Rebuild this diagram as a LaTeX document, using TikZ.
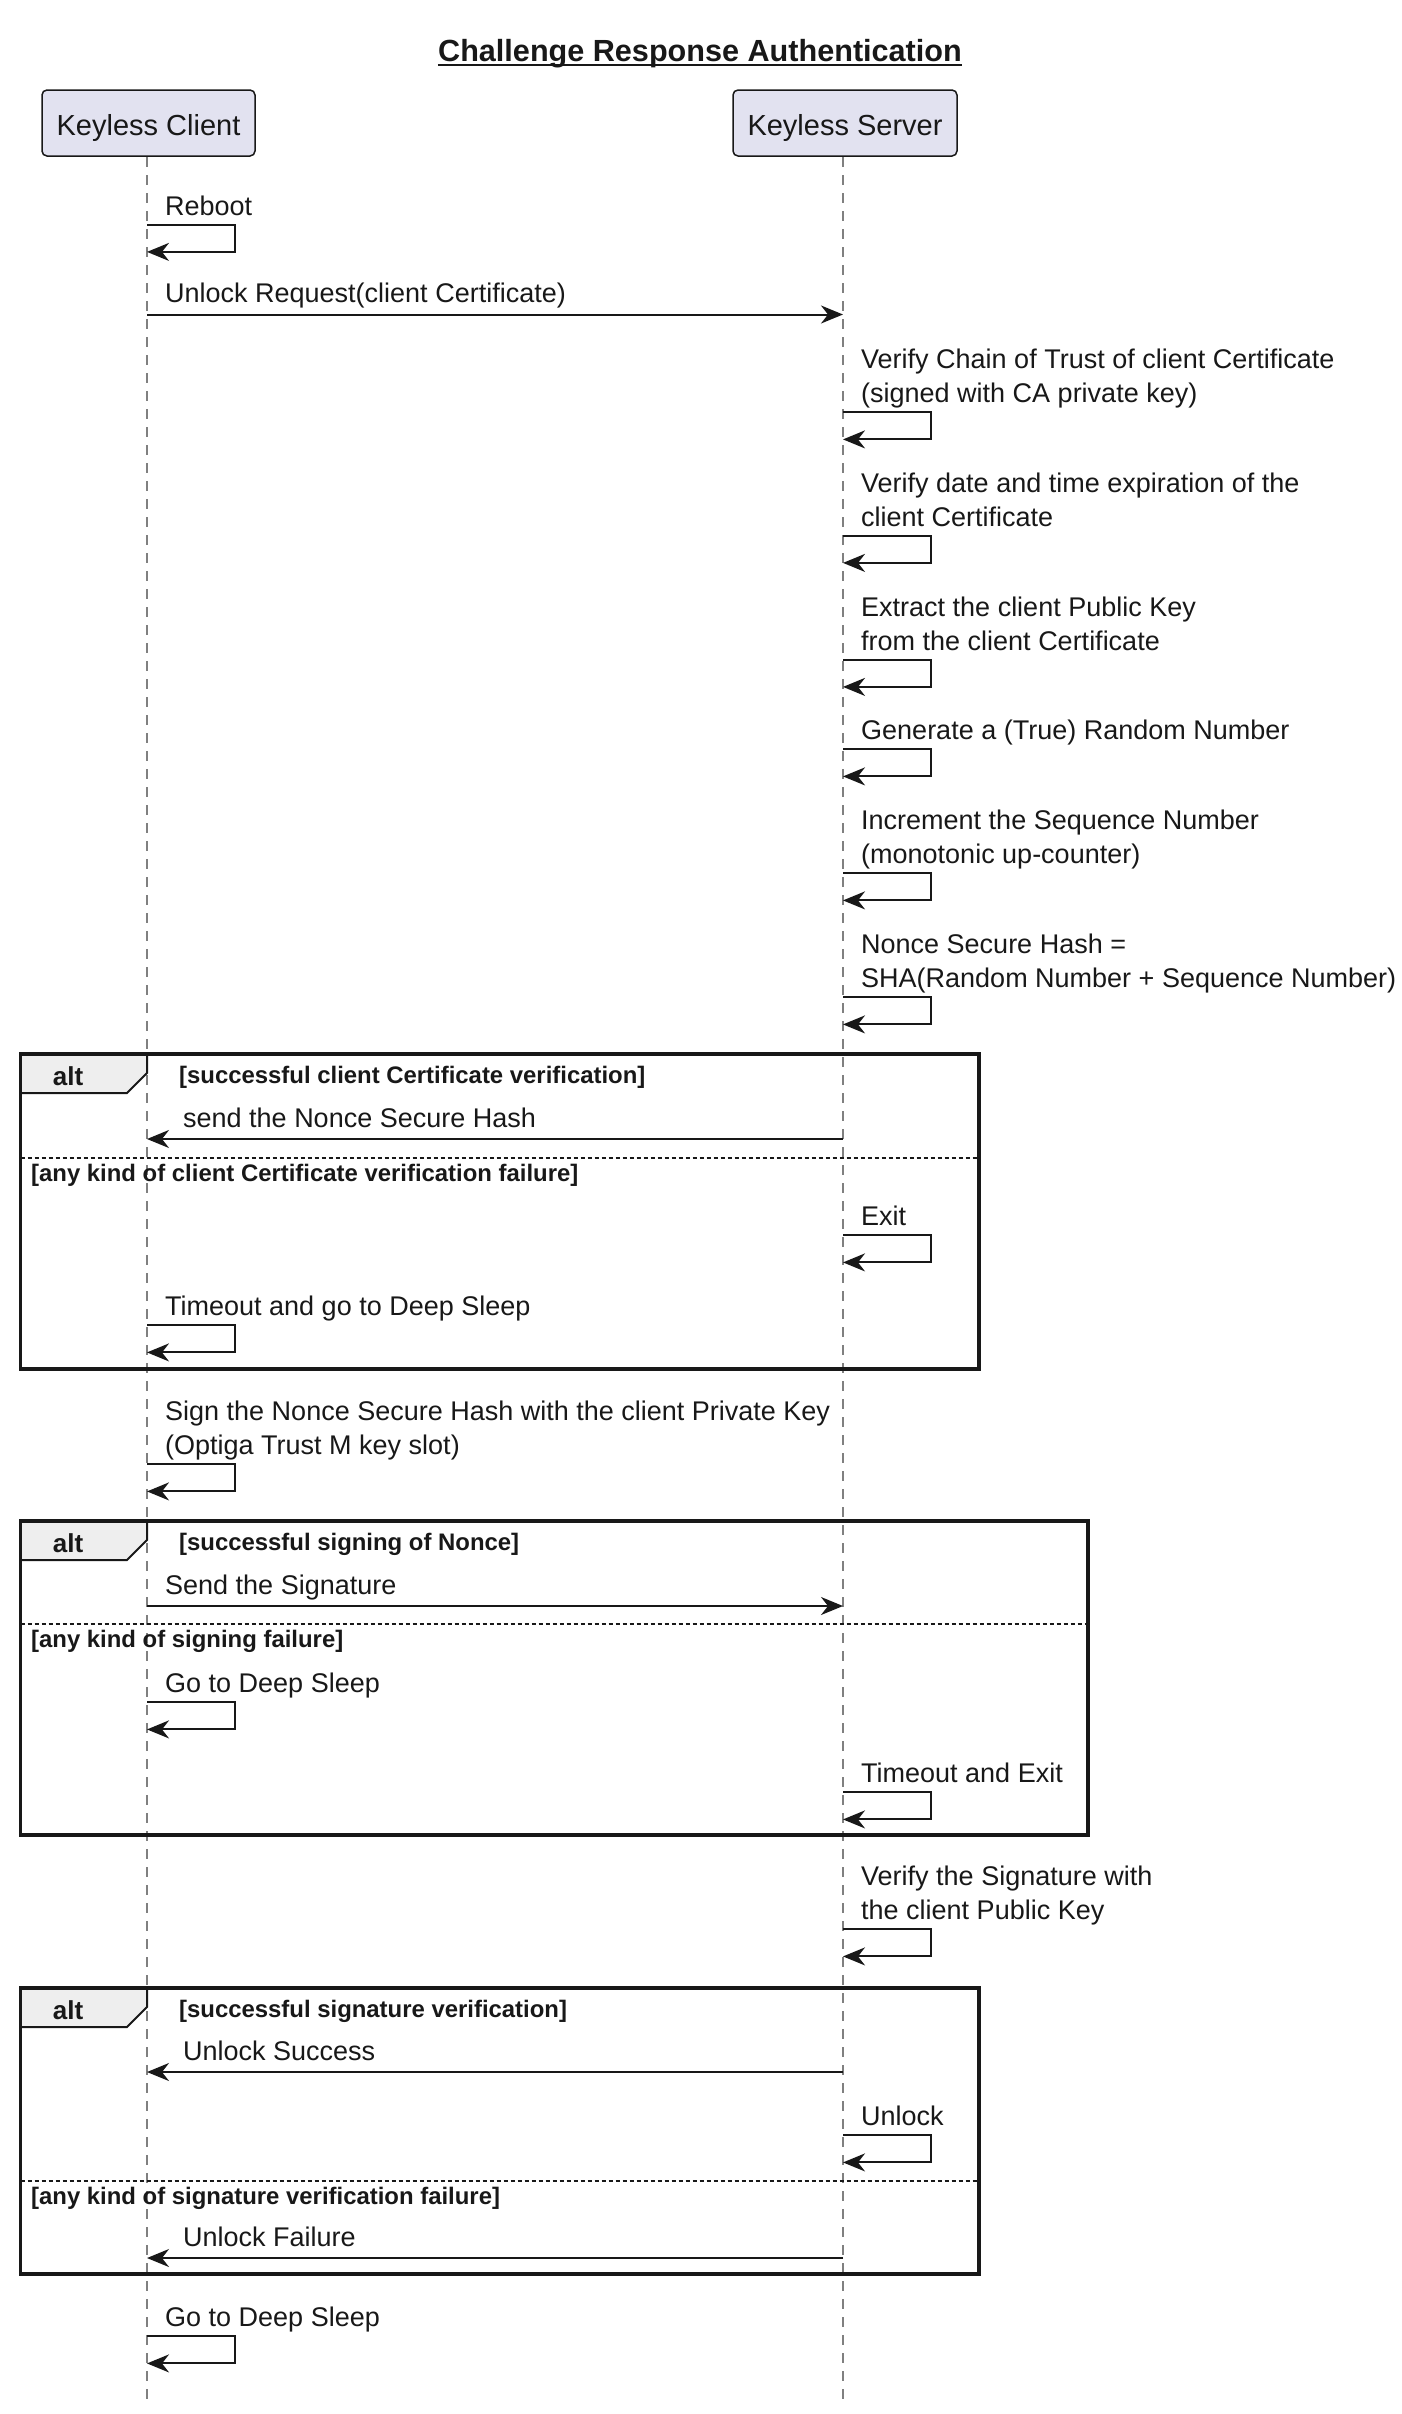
\documentclass[tikz,border=0pt]{standalone}
\usepackage{fontspec}
\setmainfont{Liberation Sans}
\usetikzlibrary{arrows.meta}
\definecolor{ink}{HTML}{181818}
\definecolor{partfill}{HTML}{E2E2F0}
\definecolor{tabfill}{HTML}{EEEEEE}
\definecolor{lifegray}{HTML}{808080}

% self message: name, lifeline x, y of the outgoing stroke
\newcommand\selfcall[3]{%
  \coordinate (#1a) at (#2,-#3);
  \coordinate (#1b) at (#2,-#3-27.4);
  \draw[msg] (#1a) -- ++(88,0) |- (#1b);}

\begin{document}
\begin{tikzpicture}[x=1pt,y=1pt,
  msg/.style={draw=ink, line width=2pt, line join=miter,
    -{Stealth[length=22pt,width=18pt,inset=7pt]}},
  msgtxt/.style={font=\fontsize{27}{34}\selectfont, inner sep=0pt,
    anchor=base west, align=left, text=ink},
  guard/.style={font=\bfseries\fontsize{23.9}{28}\selectfont, inner sep=0pt,
    anchor=base west, text=ink},
  part/.style={draw=ink, line width=1.5pt, fill=partfill, rounded corners=5pt,
    minimum height=66pt, text height=24pt, text depth=0pt,
    font=\fontsize{29}{34}\selectfont, text=ink},
  lifeline/.style={draw=lifegray, line width=1.5pt, dash pattern=on 10pt off 8pt},
  frame/.style={draw=ink, line width=3.5pt},
  tab/.style={draw=ink, line width=2pt, fill=tabfill},
  separator/.style={draw=ink, line width=1.8pt, dash pattern=on 4pt off 3pt},
  altlbl/.style={font=\bfseries\fontsize{26}{30}\selectfont, inner sep=0pt,
    anchor=base, text=ink}]
\useasboundingbox (0,0) rectangle (1402,-2414);

% title
\node[font=\bfseries\fontsize{30.6}{36}\selectfont, inner sep=0pt, anchor=base, text=ink]
  (title) at (700,-61.7) {Challenge Response Authentication};
\draw[ink, line width=2pt] ([yshift=-3.5pt]title.base west) -- ([yshift=-3.5pt]title.base east);

% participants
\node[part, minimum width=213pt] (client) at (148.5,-123) {Keyless Client};
\node[part, minimum width=224pt] (server) at (845,-123) {Keyless Server};

% lifelines
\coordinate (cl0) at (147,-157);
\coordinate (sl0) at (843,-157);
\coordinate (cl1) at (147,-2400);
\coordinate (sl1) at (843,-2400);
\draw[lifeline] (cl0) -- (cl1);
\draw[lifeline] (sl0) -- (sl1);

% alt frames (drawn before the messages)
\draw[tab] (20.5,-1054) -- (147,-1054) -- (147,-1073) -- (127,-1093) -- (20.5,-1093) -- cycle;
\draw[frame] (20.5,-1054) rectangle (979,-1369);
\draw[separator] (20.5,-1158) -- (979,-1158);
\node[altlbl] (alt1) at (68,-1085) {alt};
\node[guard] (g1a) at (179,-1083) {[successful client Certificate verification]};
\node[guard] (g1b) at (31,-1181) {[any kind of client Certificate verification failure]};

\draw[tab] (20.5,-1521) -- (147,-1521) -- (147,-1540) -- (127,-1560) -- (20.5,-1560) -- cycle;
\draw[frame] (20.5,-1521) rectangle (1088,-1835);
\draw[separator] (20.5,-1624) -- (1088,-1624);
\node[altlbl] (alt2) at (68,-1552) {alt};
\node[guard] (g2a) at (179,-1550) {[successful signing of Nonce]};
\node[guard] (g2b) at (31,-1647) {[any kind of signing failure]};

\draw[tab] (20.5,-1988) -- (147,-1988) -- (147,-2007) -- (127,-2027) -- (20.5,-2027) -- cycle;
\draw[frame] (20.5,-1988) rectangle (979,-2274);
\draw[separator] (20.5,-2181) -- (979,-2181);
\node[altlbl] (alt3) at (68,-2019) {alt};
\node[guard] (g3a) at (179,-2017) {[successful signature verification]};
\node[guard] (g3b) at (31,-2204) {[any kind of signature verification failure]};

% messages (multi-line labels are placed by their last baseline)
\node[msgtxt] (m1) at (165,-215) {Reboot};
\selfcall{r1}{147}{224.5}

\node[msgtxt] (m2) at (165,-302.5) {Unlock Request(client Certificate)};
\coordinate (c2) at (147,-314.5);
\coordinate (s2) at (843,-314.5);
\draw[msg] (c2) -- (s2);

\node[msgtxt] (m3) at (861,-402.5) {Verify Chain of Trust of client Certificate\\(signed with CA private key)};
\selfcall{r3}{843}{412}

\node[msgtxt] (m4) at (861,-526) {Verify date and time expiration of the\\client Certificate};
\selfcall{r4}{843}{535.5}

\node[msgtxt] (m5) at (861,-650) {Extract the client Public Key\\from the client Certificate};
\selfcall{r5}{843}{659.5}

\node[msgtxt] (m6) at (861,-739.5) {Generate a (True) Random Number};
\selfcall{r6}{843}{749}

\node[msgtxt] (m7) at (861,-863.5) {Increment the Sequence Number\\(monotonic up-counter)};
\selfcall{r7}{843}{873}

\node[msgtxt] (m8) at (861,-987.5) {Nonce Secure Hash =\\SHA(Random Number + Sequence Number)};
\selfcall{r8}{843}{997}

\node[msgtxt] (m9) at (183,-1127) {send the Nonce Secure Hash};
\coordinate (s9) at (843,-1139);
\coordinate (c9) at (147,-1139);
\draw[msg] (s9) -- (c9);

\node[msgtxt] (m10) at (861,-1225.5) {Exit};
\selfcall{r10}{843}{1235}

\node[msgtxt] (m11) at (165,-1315.5) {Timeout and go to Deep Sleep};
\selfcall{r11}{147}{1325}

\node[msgtxt] (m12) at (165,-1454.5) {Sign the Nonce Secure Hash with the client Private Key\\(Optiga Trust M key slot)};
\selfcall{r12}{147}{1464}

\node[msgtxt] (m13) at (165,-1594) {Send the Signature};
\coordinate (c13) at (147,-1606);
\coordinate (s13) at (843,-1606);
\draw[msg] (c13) -- (s13);

\node[msgtxt] (m14) at (165,-1692.5) {Go to Deep Sleep};
\selfcall{r14}{147}{1702}

\node[msgtxt] (m15) at (861,-1782.5) {Timeout and Exit};
\selfcall{r15}{843}{1792}

\node[msgtxt] (m16) at (861,-1919.5) {Verify the Signature with\\the client Public Key};
\selfcall{r16}{843}{1929}

\node[msgtxt] (m17) at (183,-2060) {Unlock Success};
\coordinate (s17) at (843,-2072);
\coordinate (c17) at (147,-2072);
\draw[msg] (s17) -- (c17);

\node[msgtxt] (m18) at (861,-2125.5) {Unlock};
\selfcall{r18}{843}{2135}

\node[msgtxt] (m19) at (183,-2246) {Unlock Failure};
\coordinate (s19) at (843,-2258);
\coordinate (c19) at (147,-2258);
\draw[msg] (s19) -- (c19);

\node[msgtxt] (m20) at (165,-2326.5) {Go to Deep Sleep};
\selfcall{r20}{147}{2336}
\end{tikzpicture}
\end{document}
